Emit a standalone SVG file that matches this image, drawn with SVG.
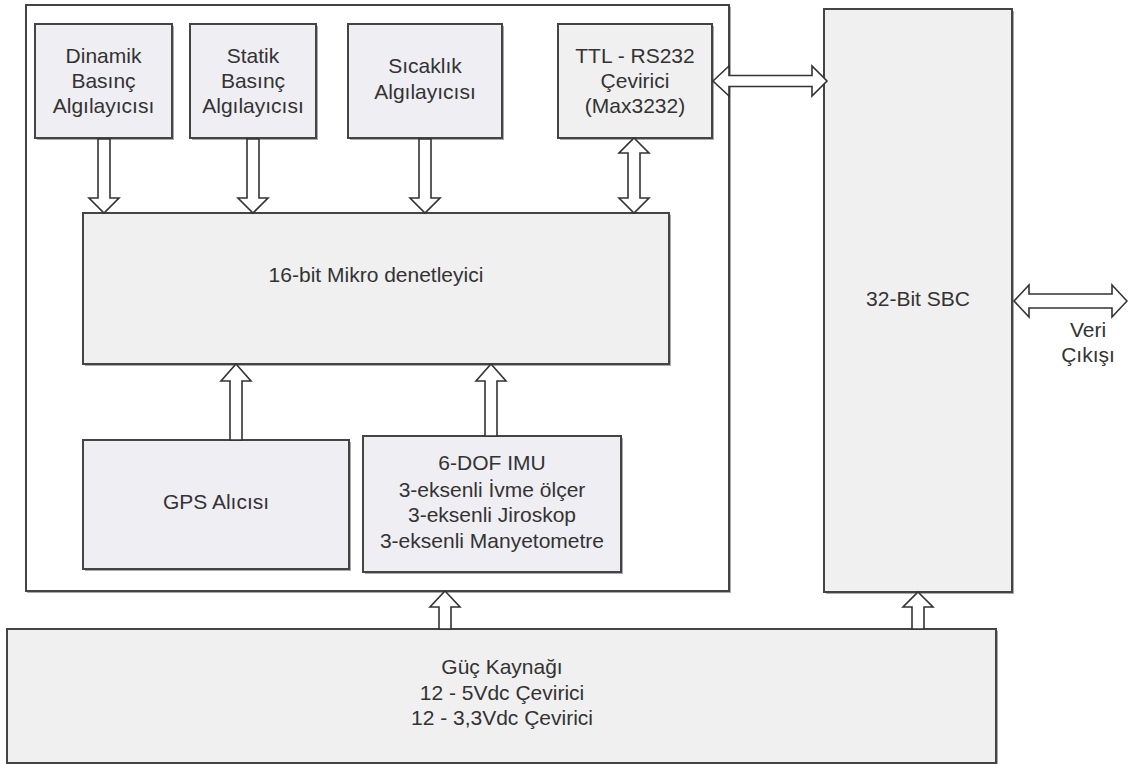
<svg xmlns="http://www.w3.org/2000/svg" width="1128" height="764" viewBox="0 0 1128 764">
<style>
text{font-family:"Liberation Sans",Arial,sans-serif;font-size:21px;fill:#333;text-anchor:middle}
.box{stroke:#444;stroke-width:2}
.sh{fill:none;stroke:#aaa;stroke-width:2}
.g1{fill:#f0f0f0}
.g2{fill:#efeef3}
.arr{fill:#fff;stroke:#333;stroke-width:1.6;stroke-linejoin:miter}
</style>
<rect width="1128" height="764" fill="#fff"/>
<g id="outer">
<polyline class="sh" points="730,7 730,592 27,592"/>
<rect class="box" x="26" y="5" width="703" height="586" fill="#fff"/>
</g>
<g id="dinamik">
<polyline class="sh" points="173,26 173,139 37,139"/>
<rect class="box g2" x="35" y="24" width="137" height="114"/>
<text x="103.5" y="63">Dinamik</text><text x="103.5" y="88">Basınç</text><text x="103.5" y="113">Algılayıcısı</text>
</g>
<g id="statik">
<polyline class="sh" points="317,26 317,139 192,139"/>
<rect class="box g2" x="190" y="24" width="126" height="114"/>
<text x="253" y="63">Statik</text><text x="253" y="88">Basınç</text><text x="253" y="113">Algılayıcısı</text>
</g>
<g id="sicaklik">
<polyline class="sh" points="503,26 503,139 350,139"/>
<rect class="box g2" x="348" y="24" width="154" height="114"/>
<text x="425" y="73">Sıcaklık</text><text x="425" y="99">Algılayıcısı</text>
</g>
<g id="ttl">
<polyline class="sh" points="713,26 713,139 560,139"/>
<rect class="box g1" x="558" y="24" width="154" height="114"/>
<text x="635" y="63">TTL - RS232</text><text x="635" y="88">Çevirici</text><text x="635" y="113">(Max3232)</text>
</g>
<g id="mcu">
<polyline class="sh" points="670,215 670,365 85,365"/>
<rect class="box g1" x="83" y="213" width="586" height="151"/>
<text x="376" y="282">16-bit Mikro denetleyici</text>
</g>
<g id="gps">
<polyline class="sh" points="350,442 350,570 85,570"/>
<rect class="box g2" x="83" y="440" width="266" height="129"/>
<text x="216" y="509">GPS Alıcısı</text>
</g>
<g id="imu">
<polyline class="sh" points="622,438 622,573 365,573"/>
<rect class="box g2" x="363" y="436" width="258" height="136"/>
<text x="492" y="470">6-DOF IMU</text><text x="492" y="497">3-eksenli İvme ölçer</text><text x="492" y="522">3-eksenli Jiroskop</text><text x="492" y="548">3-eksenli Manyetometre</text>
</g>
<g id="sbc">
<polyline class="sh" points="1013,11 1013,593 826,593"/>
<rect class="box g1" x="824" y="9" width="188" height="583"/>
<text x="918" y="306">32-Bit SBC</text>
</g>
<g id="power">
<polyline class="sh" points="997,631 997,770"/>
<rect class="box g1" x="7" y="629" width="989" height="134"/>
<text x="502" y="674">Güç Kaynağı</text><text x="502" y="700">12 - 5Vdc Çevirici</text><text x="502" y="725">12 - 3,3Vdc Çevirici</text>
</g>
<g id="veri">
<text x="1088" y="337">Veri</text><text x="1088" y="362">Çıkışı</text>
</g>
<g id="connectors">
<path class="arr" d="M98,139 V198 H89 L104,213 L119,198 H110 V139 Z"/>
<path class="arr" d="M247,139 V198 H238 L253,213 L268,198 H259 V139 Z"/>
<path class="arr" d="M419,139 V198 H410 L425,213 L440,198 H431 V139 Z"/>
<path class="arr" d="M634,138 L649,153 H640 V198 H649 L634,213 L619,198 H628 V153 H619 Z"/>
<path class="arr" d="M236,364 L251,381 H242 V440 H230 V381 H221 Z"/>
<path class="arr" d="M491,364 L506,381 H497 V436 H485 V381 H476 Z"/>
<path class="arr" d="M445,591 L460,607 H451 V629 H439 V607 H430 Z"/>
<path class="arr" d="M918,592 L933,607 H924 V629 H912 V607 H903 Z"/>
<path class="arr" d="M713,81 L729,66 V75.5 H812 V66 L827,81 L812,96 V86.5 H729 V96 Z"/>
<path class="arr" d="M1014,301 L1029,285 V294 H1112 V285 L1127,301 L1112,317 V308 H1029 V317 Z"/>
</g>
</svg>
